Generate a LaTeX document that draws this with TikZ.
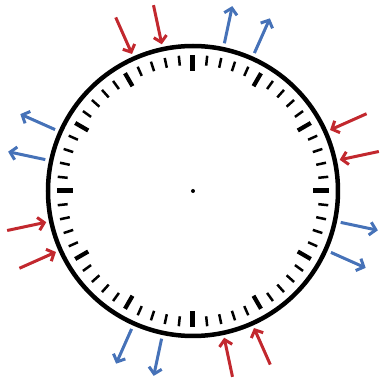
\documentclass[tikz,border=0pt]{standalone}
\usepackage{tikz}
\usetikzlibrary{arrows.meta}
\definecolor{inred}{RGB}{194,40,46}
\definecolor{outblue}{RGB}{70,114,184}

\begin{document}
\begin{tikzpicture}[
  x=1pt, y=1pt,
  clockface/.style={circle, draw=black, line width=4.5pt, minimum size=290pt, inner sep=0pt},
  hub/.style={circle, fill=black, minimum size=4pt, inner sep=0pt},
  minortick/.style={line width=2.5pt},
  majortick/.style={line width=4.2pt},
  quartertick/.style={line width=5pt},
  inarrow/.style={draw=inred, line width=3pt, -{Straight Barb[length=6pt,width=13pt]}},
  outarrow/.style={draw=outblue, line width=3pt, -{Straight Barb[length=6pt,width=13pt]}}
]
\useasboundingbox (-193,-189) rectangle (188,191);
\node[clockface] (face) at (0,0) {};
\node[hub] (hub) at (0,0) {};
% minute marks
\foreach \m in {0,...,59}{
  \pgfmathtruncatemacro\five{mod(\m,5)}
  \pgfmathtruncatemacro\quarter{mod(\m,15)}
  \ifnum\quarter=0
    \draw[quartertick] (\m*6:136) -- (\m*6:120);
  \else\ifnum\five=0
    \draw[majortick] (\m*6:136) -- (\m*6:121);
  \else
    \draw[minortick] (\m*6:136) -- (\m*6:126);
  \fi\fi
}
% arrows pointing in
\foreach \a [count=\i] in {102,114,12,24,282,294,192,204}{
  \coordinate (in\i s) at (\a:190);
  \coordinate (in\i e) at (\a:150);
  \draw[inarrow] (in\i s) -- (in\i e);
}
% arrows pointing out
\foreach \a [count=\i] in {78,66,-12,-24,258,246,168,156}{
  \coordinate (out\i s) at (\a:151);
  \coordinate (out\i e) at (\a:189);
  \draw[outarrow] (out\i s) -- (out\i e);
}
\end{tikzpicture}
\end{document}
